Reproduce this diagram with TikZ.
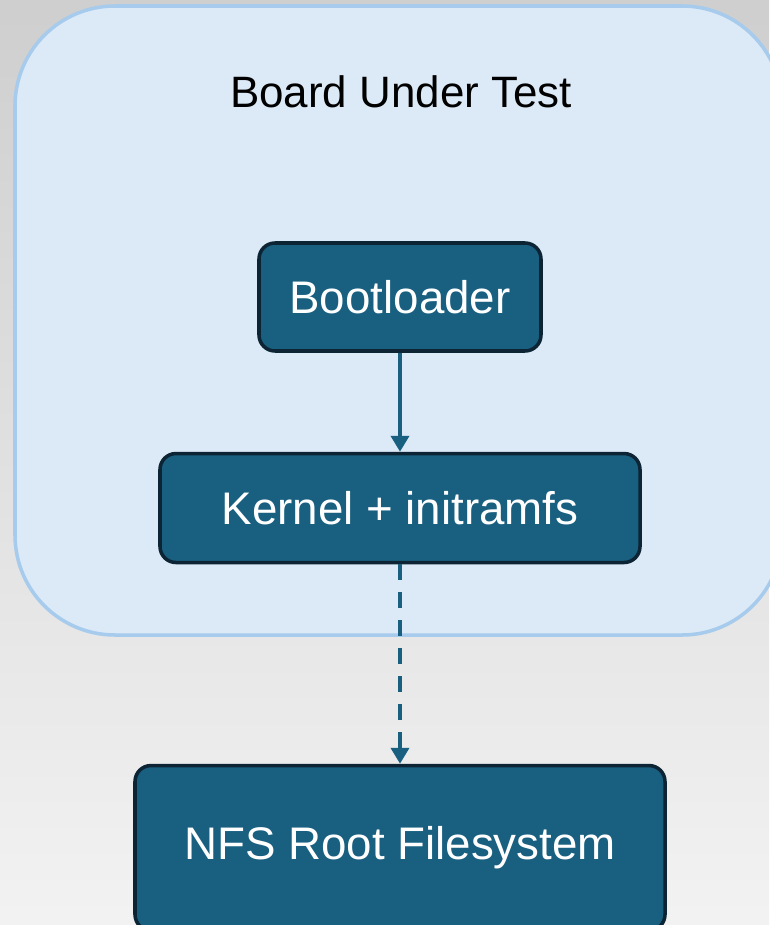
\documentclass[tikz,border=0pt]{standalone}
\usepackage{fontspec}
\setmainfont{Liberation Sans}
\usetikzlibrary{positioning,arrows.meta}

\definecolor{boxblue}{HTML}{185F80}
\definecolor{boxedge}{HTML}{0C2434}
\definecolor{boardfill}{HTML}{DCE9F7}
\definecolor{boardedge}{HTML}{A6CBEC}

\begin{document}
\begin{tikzpicture}[
    node distance=1.98cm,
    block/.style={rectangle, draw=boxedge, fill=boxblue, line width=2pt, rounded corners=0.32cm, text=white, inner sep=0pt, font=\fontsize{26}{30}\selectfont},
    line/.style={draw=boxblue, line width=2.2pt, -{Triangle[width=0.36cm,length=0.32cm]}}
]

% Page and background
\useasboundingbox (0,0) rectangle (15.38,-18.5);
\shade[top color=black!19, bottom color=black!5] (0,0) rectangle (15.38,-18.5);

% Board container
\node[draw=boardedge, fill=boardfill, line width=2pt, rounded corners=2cm, minimum width=15.34cm, minimum height=12.58cm] (board) at (7.97,-6.41) {};
\node[font=\fontsize{25}{30}\selectfont] (title) at (8.02,-1.84) {Board Under Test};

% Nodes
\node[block, minimum width=5.64cm, minimum height=2.16cm] (boot) at (8.0,-5.94) {Bootloader};
\node[block, minimum width=9.6cm, minimum height=2.18cm, below=of boot] (kernel) {Kernel + initramfs};
\node[block, minimum width=10.6cm, minimum height=3.3cm, below=3.99cm of kernel] (nfs) {NFS Root Filesystem};

% Paths
\draw[line] (boot) -- (kernel);
\draw[line, dash pattern=on 0.32cm off 0.24cm] (kernel) -- (nfs);

\end{tikzpicture}
\end{document}
